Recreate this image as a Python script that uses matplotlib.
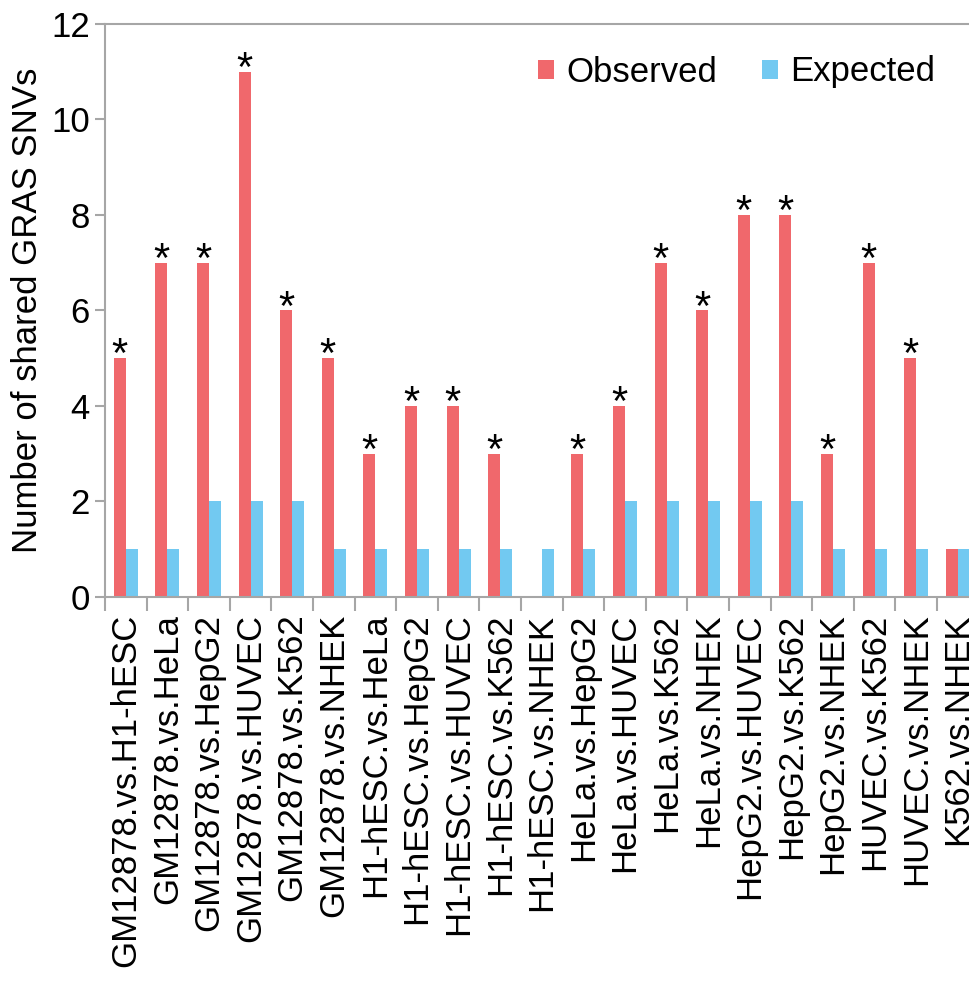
import matplotlib
matplotlib.use('Agg')
import matplotlib.pyplot as plt
import numpy as np

plt.rcParams['font.family'] = ['Liberation Sans', 'DejaVu Sans']

# data
pairs = ['GM12878.vs.H1-hESC', 'GM12878.vs.HeLa', 'GM12878.vs.HepG2', 'GM12878.vs.HUVEC',
         'GM12878.vs.K562', 'GM12878.vs.NHEK', 'H1-hESC.vs.HeLa', 'H1-hESC.vs.HepG2',
         'H1-hESC.vs.HUVEC', 'H1-hESC.vs.K562', 'H1-hESC.vs.NHEK', 'HeLa.vs.HepG2',
         'HeLa.vs.HUVEC', 'HeLa.vs.K562', 'HeLa.vs.NHEK', 'HepG2.vs.HUVEC',
         'HepG2.vs.K562', 'HepG2.vs.NHEK', 'HUVEC.vs.K562', 'HUVEC.vs.NHEK', 'K562.vs.NHEK']
observed = [5, 7, 7, 11, 6, 5, 3, 4, 4, 3, 0, 3, 4, 7, 6, 8, 8, 3, 7, 5, 1]
expected = [1, 1, 2, 2, 2, 1, 1, 1, 1, 1, 1, 1, 2, 2, 2, 2, 2, 1, 1, 1, 1]
significant = [True] * 10 + [False] + [True] * 9 + [False]

red = '#F0686C'
blue = '#72C9F1'
grey = '#A6A6A6'

fig = plt.figure(figsize=(9.69, 9.83), dpi=100)
# axes runs a bit past the right edge, as in the original
ax = fig.add_axes([0.1084, 0.3927, 0.9015, 0.5829])

x = np.arange(len(pairs))
w = 0.29
ax.bar(x - w / 2, observed, w, color=red, label='Observed')
ax.bar(x + w / 2, expected, w, color=blue, label='Expected')

# stars above the significant observed bars
for xi, v, s in zip(x, observed, significant):
    if s:
        ax.annotate('*', (xi - w / 2, v), xytext=(0, -6.5), textcoords='offset points',
                    ha='center', va='baseline', fontsize=30)

ax.set_xlim(-0.5, len(pairs) - 0.5)
ax.set_ylim(0, 12)
ax.set_yticks(range(0, 13, 2))
ax.set_ylabel('Number of shared GRAS SNVs', fontsize=25, labelpad=5)

# labels at centres, tick marks at boundaries
ax.set_xticks(x)
ax.set_xticklabels(pairs, rotation=90, fontsize=25)
ax.tick_params(axis='x', length=0, pad=12)
ax.set_xticks(np.arange(len(pairs) + 1) - 0.5, minor=True)
ax.tick_params(axis='x', which='minor', length=10, width=1.5, color=grey)
ax.tick_params(axis='y', length=7, width=1.5, color=grey, labelsize=25, pad=4)

for side in ['left', 'bottom', 'top']:
    ax.spines[side].set_color(grey)
    ax.spines[side].set_linewidth(1.5)
ax.spines['right'].set_visible(False)

fig.legend(loc='center left', bbox_to_anchor=(538 / 969, 1 - 72 / 983), ncol=2,
           frameon=False, fontsize=25, handlelength=0.46, handleheight=0.46,
           handletextpad=0.37, columnspacing=1.27, borderpad=0, borderaxespad=0)

fig.savefig('out.png', dpi=100)
